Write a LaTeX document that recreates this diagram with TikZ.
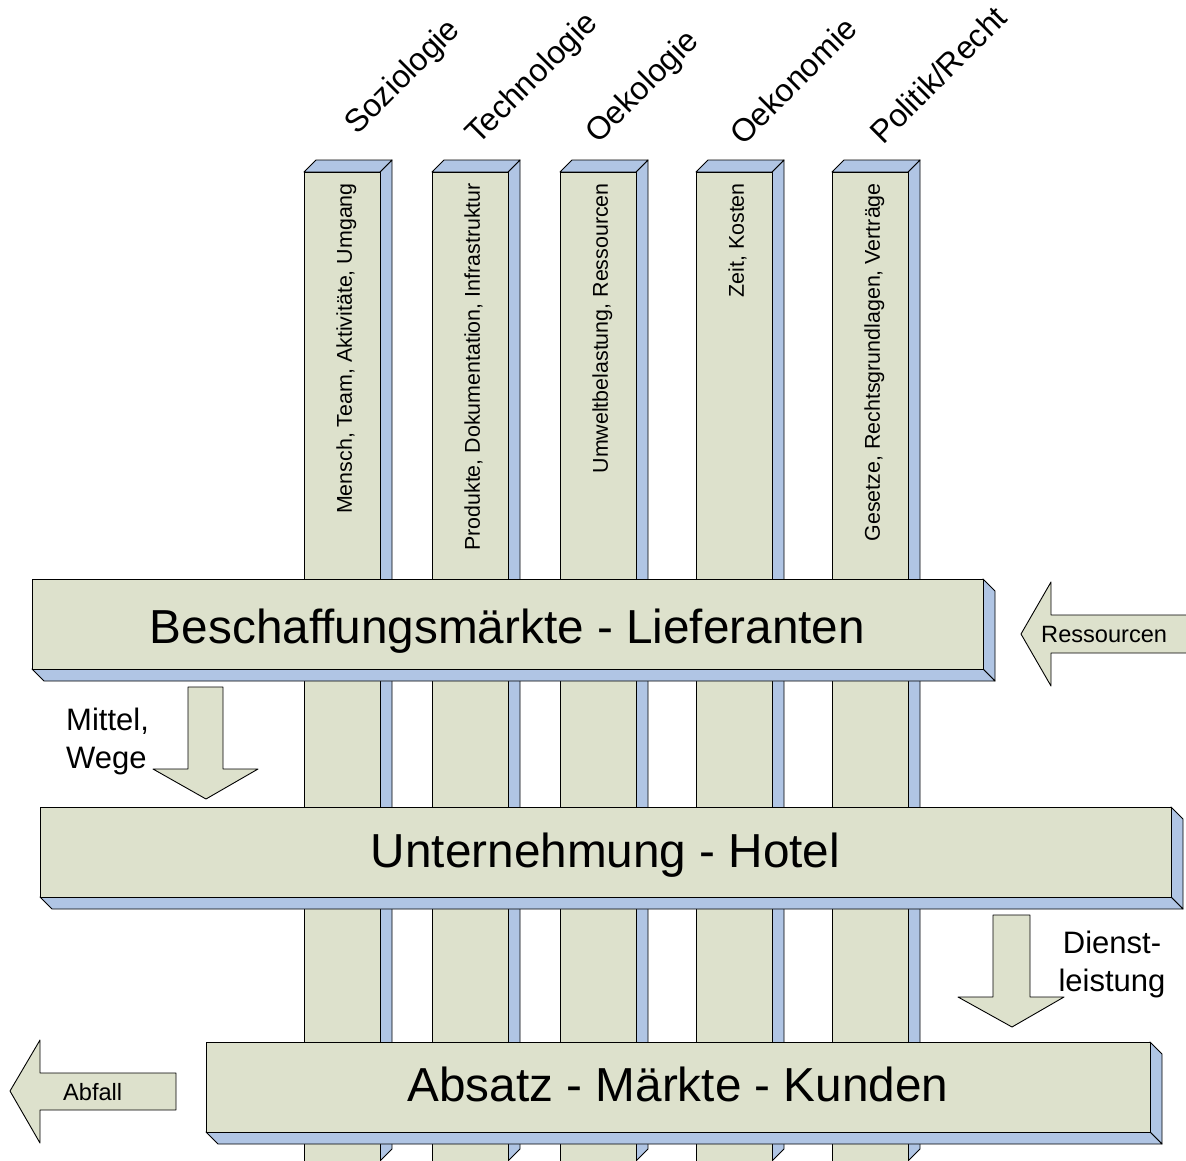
\documentclass[tikz,border=0pt]{standalone}
\usepackage{fontspec}
\setmainfont{Liberation Sans}
\definecolor{boxgreen}{RGB}{221,225,204}
\definecolor{boxblue}{RGB}{176,197,228}

\begin{document}
\begin{tikzpicture}[x=1pt,y=-1pt,line join=round,
			front/.style={draw,fill=boxgreen,line width=0.9pt},
			side/.style={draw,fill=boxblue,line width=0.9pt},
			block arrow/.style={draw,fill=boxgreen,line width=0.9pt},
			col text/.style={rotate=90,anchor=east,inner sep=0pt,text height=16pt,text depth=4.5pt,font=\fontsize{21.4}{24}\selectfont},
			top text/.style={rotate=45,anchor=base west,inner sep=0pt,font=\fontsize{32}{36}\selectfont},
			bar text/.style={anchor=base,inner sep=0pt,font=\fontsize{47.7}{56}\selectfont},
			flow text/.style={inner sep=0pt,font=\fontsize{31}{38}\selectfont},
			arrow text/.style={anchor=base west,inner sep=0pt,font=\fontsize{23.6}{28}\selectfont}
			]

			\def \dep {12};
			\def \cw {76};
			\def \bh {90};

			\clip (0,0) rectangle (1186,1160);

			% Saeulen
			\foreach \x/\i/\lab/\lx/\ly/\txt in {304/1/Soziologie/357/136/{Mensch, Team, Aktivitäte, Umgang},
				432/2/Technologie/478/146/{Produkte, Dokumentation, Infrastruktur},
				560/3/Oekologie/598/145/{Umweltbelastung, Ressourcen},
				696/4/Oekonomie/743/147/{Zeit, Kosten},
				832/5/{Politik/Recht}/883/146/{Gesetze, Rechtsgrundlagen, Verträge}} {
				\draw[side] (\x+\cw,172) -- ++(\dep,-\dep) -- (\x+\cw+\dep,1161-\dep) -- (\x+\cw,1161) -- cycle;
				\draw[side] (\x,172) -- ++(\dep,-\dep) -- ++(\cw,0) -- (\x+\cw,172) -- cycle;
				\draw[front] (\x,172) rectangle (\x+\cw,1161);
				\node[col text] (c\i) at (\x+42,183) {\txt};
				\node[top text] (t\i) at (\lx,\ly) {\lab};
			}

			% Balken
			\foreach \xa/\xb/\ya/\by/\i/\txt in {32/983/579/643/1/{Beschaffungsmärkte - Lieferanten},
				40/1171/807/867/2/{Unternehmung - Hotel},
				206/1150/1042/1101/3/{Absatz - Märkte - Kunden}} {
				\draw[side] (\xb,\ya) -- ++(\dep,\dep) -- (\xb+\dep,\ya+\bh+\dep) -- (\xb,\ya+\bh) -- cycle;
				\draw[side] (\xa,\ya+\bh) -- ++(\dep,\dep) -- (\xb+\dep,\ya+\bh+\dep) -- (\xb,\ya+\bh) -- cycle;
				\draw[front] (\xa,\ya) rectangle (\xb,\ya+\bh);
				\node[bar text] (b\i) at ({(\xa+\xb)/2},\by) {\txt};
			}

			% Pfeile
			\draw[block arrow] (1195,615) -- (1051,615) -- (1051,582) -- (1021,634) -- (1051,686) -- (1051,653) -- (1195,653);
			\node[arrow text] (res) at (1041,642) {Ressourcen};

			\draw[block arrow] (188,687) -- (223,687) -- (223,769) -- (258,769) -- (206,799) -- (153,769) -- (188,769) -- cycle;
			\node[flow text,align=left,anchor=west] (mw) at (66,741) {Mittel,\\Wege};

			\draw[block arrow] (993,915) -- (1030,915) -- (1030,997) -- (1064,997) -- (1012,1027) -- (958,997) -- (993,997) -- cycle;
			\node[flow text,align=center] (dl) at (1112,964) {Dienst-\\leistung};

			\draw[block arrow] (176,1073) -- (40,1073) -- (40,1040) -- (10,1091) -- (40,1143) -- (40,1110) -- (176,1110) -- cycle;
			\node[arrow text] (ab) at (63,1100) {Abfall};
		\end{tikzpicture}
\end{document}
